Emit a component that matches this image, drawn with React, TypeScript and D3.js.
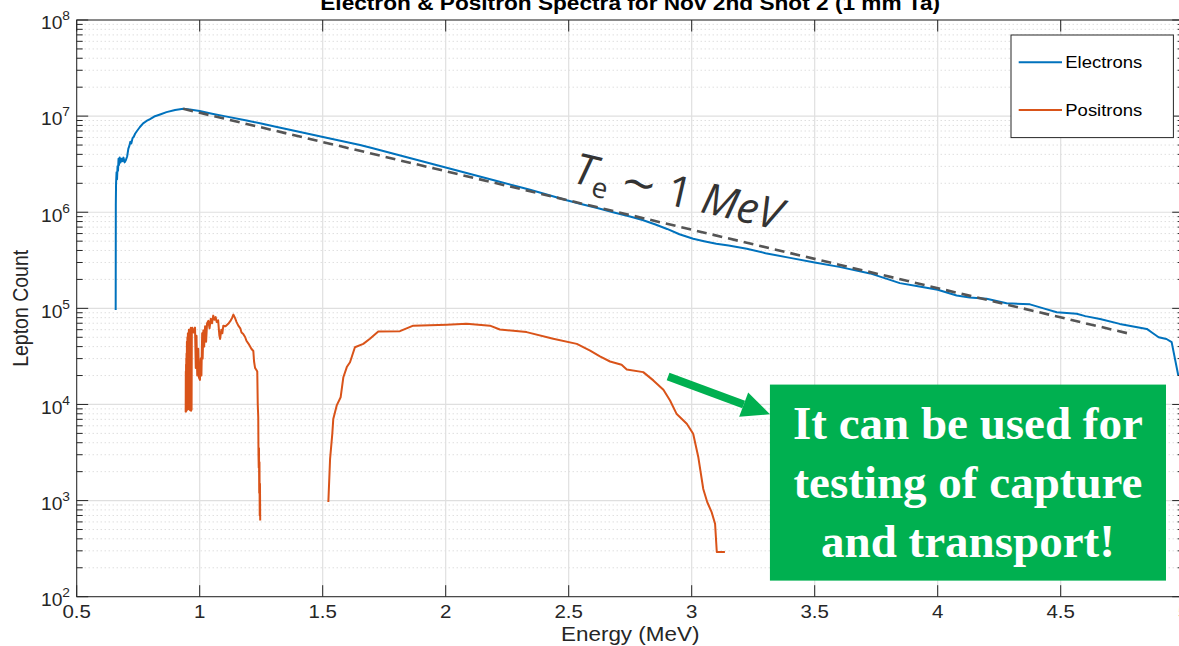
import React from 'react';
import * as d3 from 'd3';

// ---------- data ----------
const xTickValues = [0.5, 1, 1.5, 2, 2.5, 3, 3.5, 4, 4.5, 5];
const xTickLabels = ['0.5', '1', '1.5', '2', '2.5', '3', '3.5', '4', '4.5', '5'];
const yDecadeExponents = [2, 3, 4, 5, 6, 7, 8];

const electronEnergy = [0.6585,0.659,0.660,0.662,0.664,0.666,0.668,0.670,0.672,0.675,0.678,0.682,0.686,0.690,0.695,0.700,0.705,0.710,0.714,0.718,0.722,0.727,0.732,0.738,0.745,0.757,0.770,0.784,0.798,0.815,0.839,0.865,0.900,0.933,0.960,1.000,1.050,1.100,1.191,1.250,1.300,1.380,1.450,1.520,1.600,1.652,1.700,1.800,1.900,2.000,2.100,2.200,2.300,2.343,2.400,2.492,2.550,2.620,2.680,2.749,2.800,2.850,2.900,2.950,3.006,3.050,3.100,3.150,3.224,3.300,3.400,3.500,3.600,3.725,3.800,3.846,3.920,4.000,4.077,4.130,4.199,4.280,4.375,4.430,4.484,4.565,4.600,4.660,4.740,4.850,4.875,4.898,4.930,4.951,4.978];
const electronCount = [9.6e4,1.2e6,2.0e6,2.6e6,2.2e6,3.0e6,2.7e6,3.6e6,3.1e6,3.7e6,3.3e6,3.6e6,3.4e6,3.7e6,3.3e6,3.5e6,3.8e6,4.6e6,4.9e6,5.4e6,5.2e6,5.9e6,6.1e6,6.6e6,7.0e6,7.7e6,8.4e6,8.9e6,9.3e6,9.9e6,1.04e7,1.1e7,1.16e7,1.19e7,1.17e7,1.13e7,1.06e7,1.0e7,9.02e6,8.36e6,7.85e6,7.08e6,6.49e6,5.93e6,5.36e6,5.0e6,4.65e6,3.98e6,3.41e6,2.92e6,2.50e6,2.14e6,1.83e6,1.71e6,1.56e6,1.33e6,1.22e6,1.10e6,1.0e6,9.04e5,8.3e5,7.5e5,6.7e5,5.9e5,5.3e5,5.0e5,4.7e5,4.5e5,4.17e5,3.75e5,3.35e5,3.0e5,2.7e5,2.31e5,2.0e5,1.83e5,1.70e5,1.56e5,1.36e5,1.30e5,1.26e5,1.13e5,1.10e5,1.0e5,9.12e4,8.79e4,8.3e4,7.76e4,6.89e4,6.11e4,5.5e4,5.01e4,4.8e4,4.45e4,2.0e4];

const positronEnergyLow = [0.943,0.9435,0.944,0.9445,0.945,0.9455,0.946,0.9465,0.947,0.948,0.949,0.950,0.951,0.952,0.953,0.954,0.955,0.956,0.957,0.958,0.959,0.960,0.961,0.962,0.963,0.964,0.965,0.966,0.967,0.968,0.970,0.975,0.981,0.984,0.987,0.990,0.994,0.997,1.001,1.004,1.007,1.010,1.012,1.015,1.018,1.022,1.026,1.030,1.035,1.040,1.045,1.050,1.055,1.060,1.065,1.069,1.075,1.080,1.083,1.088,1.092,1.096,1.105,1.116,1.125,1.132,1.137,1.143,1.150,1.157,1.165,1.170,1.177,1.185,1.190,1.198,1.205,1.210,1.218,1.221,1.225,1.230,1.234,1.236,1.238,1.239,1.240,1.241,1.242,1.243,1.244,1.245,1.246];
const positronCountLow = [8.3e3,2.2e4,8.4e3,2.6e4,8.5e3,3.0e4,8.6e3,3.4e4,9.0e3,4.5e4,8.8e3,5.0e4,1.1e4,5.5e4,8.9e3,5.2e4,9.5e3,6.0e4,9.0e3,5.7e4,1.2e4,5.8e4,8.7e3,6.1e4,1.0e4,6.3e4,8.6e3,6.0e4,8.8e3,5.9e4,6.3e4,5.6e4,6.3e4,2.4e4,5.2e4,2.0e4,3.8e4,1.9e4,1.8e4,3.0e4,2.0e4,5.5e4,3.0e4,5.9e4,4.0e4,6.5e4,4.5e4,7.0e4,7.4e4,6.2e4,7.8e4,7.0e4,8.4e4,7.6e4,8.1e4,7.2e4,7.5e4,5.2e4,4.8e4,6.0e4,5.5e4,6.6e4,6.5e4,6.9e4,7.4e4,8.0e4,8.6e4,8.0e4,7.2e4,6.6e4,6.2e4,5.6e4,5.4e4,5.0e4,4.6e4,4.3e4,4.0e4,3.8e4,3.6e4,2.8e4,2.4e4,2.3e4,2.2e4,1.0e4,7.4e3,3.0e3,2.2e3,3.5e3,1.2e3,2.5e3,7.0e2,1.5e3,6.2e2];

const positronEnergyHigh = [1.523,1.530,1.539,1.543,1.557,1.573,1.584,1.598,1.611,1.631,1.665,1.692,1.726,1.814,1.868,2.004,2.085,2.180,2.220,2.329,2.437,2.533,2.587,2.627,2.668,2.715,2.736,2.803,2.844,2.885,2.912,2.939,2.980,3.006,3.027,3.047,3.063,3.081,3.095,3.102,3.135];
const positronCountHigh = [966,2720,4950,7080,9770,1.19e4,1.92e4,2.45e4,2.75e4,3.94e4,4.27e4,4.82e4,5.75e4,5.79e4,6.61e4,6.76e4,6.92e4,6.61e4,6.03e4,5.66e4,4.82e4,4.27e4,3.63e4,3.16e4,2.80e4,2.59e4,2.31e4,2.17e4,1.78e4,1.42e4,1.10e4,7.94e3,6.31e3,4.95e3,2.82e3,1.32e3,966,759,575,292,292];

const fitEnergy = [0.933, 4.779];
const fitCount = [1.19e7, 5.45e4];

const legendLabels = ['Electrons', 'Positrons'];
const seriesColors = ['#0072BD', '#D95319'];

const titleText = 'Electron & Positron Spectra for Nov 2nd Shot 2 (1 mm Ta)';
const noteLines = ['It can be used for', 'testing of capture', 'and transport!'];

// annotation anchors in data units
const arrowFrom = [2.904, 1.95e4];
const arrowTo = [3.318, 7.9e3];
const noteBoxE = [3.318, 4.928];
const noteBoxCount = [1.61e4, 147];
const labelAnchor = [2.51, 2.05e6];

// ---------- layout ----------
const W = 1179, H = 646;
const PL = 76.7, PR = 1183.7, PT = 20, PB = 596.7;
const AX = '#262626';
const SX = 1.1; // horizontal stretch of figure text
const FONT = "'Liberation Sans', Arial, Helvetica, sans-serif";

export default function App() {
  const x = d3.scaleLinear().domain([0.5, 5]).range([PL, PR]);
  const y = d3.scaleLog().domain([1e2, 1e8]).range([PB, PT]);
  const line = d3.line<[number, number]>().x(d => x(d[0])).y(d => y(d[1]));

  const electrons = d3.zip(electronEnergy, electronCount) as [number, number][];
  const posLow = d3.zip(positronEnergyLow, positronCountLow) as [number, number][];
  const posHigh = d3.zip(positronEnergyHigh, positronCountHigh) as [number, number][];
  const fit = d3.zip(fitEnergy, fitCount) as [number, number][];

  const majors = yDecadeExponents.map(e => Math.pow(10, e));
  const minors: number[] = [];
  yDecadeExponents.slice(0, -1).forEach(e => {
    for (let k = 2; k <= 9; k++) minors.push(k * Math.pow(10, e));
  });

  // arrow geometry
  const ax0 = x(arrowFrom[0]), ay0 = y(arrowFrom[1]);
  const ax1 = x(arrowTo[0]), ay1 = y(arrowTo[1]);
  const len = Math.hypot(ax1 - ax0, ay1 - ay0);
  const ux = (ax1 - ax0) / len, uy = (ay1 - ay0) / len;
  const headL = 28, headW = 13;
  const bx = ax1 - ux * headL, by = ay1 - uy * headL;
  const head = `M${ax1},${ay1} L${bx - uy * headW},${by + ux * headW} L${bx + uy * headW},${by - ux * headW} Z`;

  const boxX0 = x(noteBoxE[0]), boxX1 = x(noteBoxE[1]);
  const boxY0 = y(noteBoxCount[0]), boxY1 = y(noteBoxCount[1]);
  const boxCx = (boxX0 + boxX1) / 2, boxCy = (boxY0 + boxY1) / 2;

  const legX0 = 1011, legY0 = 35, legX1 = 1173.4, legY1 = 137.6;

  return (
    <svg width={W} height={H} style={{ position: 'absolute', left: 0, top: 0, background: '#fff' }}
      fontFamily={FONT}>
      <defs>
        <clipPath id="plotClip">
          <rect x={PL} y={PT} width={PR - PL} height={PB - PT} />
        </clipPath>
      </defs>
      <rect x={0} y={0} width={W} height={H} fill="#fff" />

      {/* minor grid */}
      {minors.map((v, i) => (
        <line key={'mg' + i} x1={PL} x2={PR} y1={y(v)} y2={y(v)} stroke="#c4c4c4" strokeWidth={0.8} strokeDasharray="1 3" />
      ))}
      {/* major grid */}
      {majors.map((v, i) => (
        <line key={'Mg' + i} x1={PL} x2={PR} y1={y(v)} y2={y(v)} stroke="#dfdfdf" strokeWidth={1.2} />
      ))}
      {xTickValues.map((v, i) => (
        <line key={'xg' + i} x1={x(v)} x2={x(v)} y1={PT} y2={PB} stroke="#dfdfdf" strokeWidth={1.2} />
      ))}

      {/* data */}
      <g clipPath="url(#plotClip)" fill="none" strokeLinejoin="round">
        <path d={line(electrons) || ''} stroke={seriesColors[0]} strokeWidth={2} />
        <path d={line(posLow) || ''} stroke={seriesColors[1]} strokeWidth={2} />
        <path d={line(posHigh) || ''} stroke={seriesColors[1]} strokeWidth={2} />
        <path d={line(fit) || ''} stroke="#555" strokeWidth={2.6} strokeDasharray="10 6" />
      </g>

      {/* axes box */}
      <rect x={PL} y={PT} width={PR - PL} height={PB - PT} fill="none" stroke={AX} strokeWidth={1} />
      {xTickValues.map((v, i) => (
        <g key={'xt' + i}>
          <line x1={x(v)} x2={x(v)} y1={PB} y2={PB - 11.5} stroke={AX} />
          <line x1={x(v)} x2={x(v)} y1={PT} y2={PT + 11.5} stroke={AX} />
          <text transform={`translate(${x(v)},618) scale(${SX},1)`} textAnchor="middle" fontSize={18.6} fill={AX}>{xTickLabels[i]}</text>
        </g>
      ))}
      {majors.map((v, i) => (
        <g key={'yt' + i}>
          <line x1={PL} x2={PL + 11.5} y1={y(v)} y2={y(v)} stroke={AX} />
          <line x1={PR} x2={PR - 11.5} y1={y(v)} y2={y(v)} stroke={AX} />
          <text transform={`translate(70,${y(v) + 9.3}) scale(${SX},1)`} textAnchor="end" fontSize={17.5} fill={AX}>
            10<tspan dy={-9} fontSize={12.5}>{yDecadeExponents[i]}</tspan>
          </text>
        </g>
      ))}
      {minors.map((v, i) => (
        <g key={'ym' + i}>
          <line x1={PL} x2={PL + 6} y1={y(v)} y2={y(v)} stroke={AX} />
          <line x1={PR} x2={PR - 6} y1={y(v)} y2={y(v)} stroke={AX} />
        </g>
      ))}

      {/* axis labels and title */}
      <text transform={`translate(${(PL + PR) / 2},641) scale(${SX},1)`} textAnchor="middle" fontSize={20.4} fill={AX}>Energy (MeV)</text>
      <text transform={`translate(28,${(PT + PB) / 2}) rotate(-90) scale(1,${SX})`} textAnchor="middle" fontSize={19.5} fill={AX}>Lepton Count</text>
      <text transform={`translate(${(PL + PR) / 2},10) scale(${SX},1)`} textAnchor="middle" fontSize={20.6} fontWeight="bold" fill="#000">{titleText}</text>

      {/* legend */}
      <rect x={legX0} y={legY0} width={legX1 - legX0} height={legY1 - legY0} fill="#fff" stroke={AX} strokeWidth={1} />
      {legendLabels.map((lab, i) => {
        const ly = i === 0 ? 62.3 : 110;
        return (
          <g key={'lg' + i}>
            <line x1={1018.7} x2={1062} y1={ly} y2={ly} stroke={seriesColors[i]} strokeWidth={2} />
            <text transform={`translate(1065.3,${ly + 6}) scale(${SX},1)`} fontSize={16.8} fill="#000">{lab}</text>
          </g>
        );
      })}

      {/* T_e ~ 1 MeV annotation */}
      <text transform={`translate(${x(labelAnchor[0])},${y(labelAnchor[1])}) rotate(13)`}
        fontFamily="'Open Sans', 'DejaVu Sans', sans-serif" fontSize={43} fill="#333">
        <tspan fontStyle="italic">T</tspan>
        <tspan fontSize={28} dy={9}>e</tspan>
        <tspan dy={-9}>{'\u00a0\u223c\u00a01\u00a0'}</tspan>
        <tspan fontStyle="italic">MeV</tspan>
      </text>

      {/* green arrow */}
      <line x1={ax0} y1={ay0} x2={bx} y2={by} stroke="#00B050" strokeWidth={8} />
      <path d={head} fill="#00B050" />

      {/* green note box */}
      <rect x={boxX0} y={boxY0} width={boxX1 - boxX0} height={boxY1 - boxY0} fill="#00B050" />
      {noteLines.map((t, i) => (
        <text key={'nl' + i} x={boxCx} y={boxCy + 15.5 + (i - 1) * 59} textAnchor="middle"
          fontFamily="'Liberation Serif', 'Times New Roman', serif" fontWeight="bold" fontSize={47} fill="#fff">{t}</text>
      ))}
    </svg>
  );
}
